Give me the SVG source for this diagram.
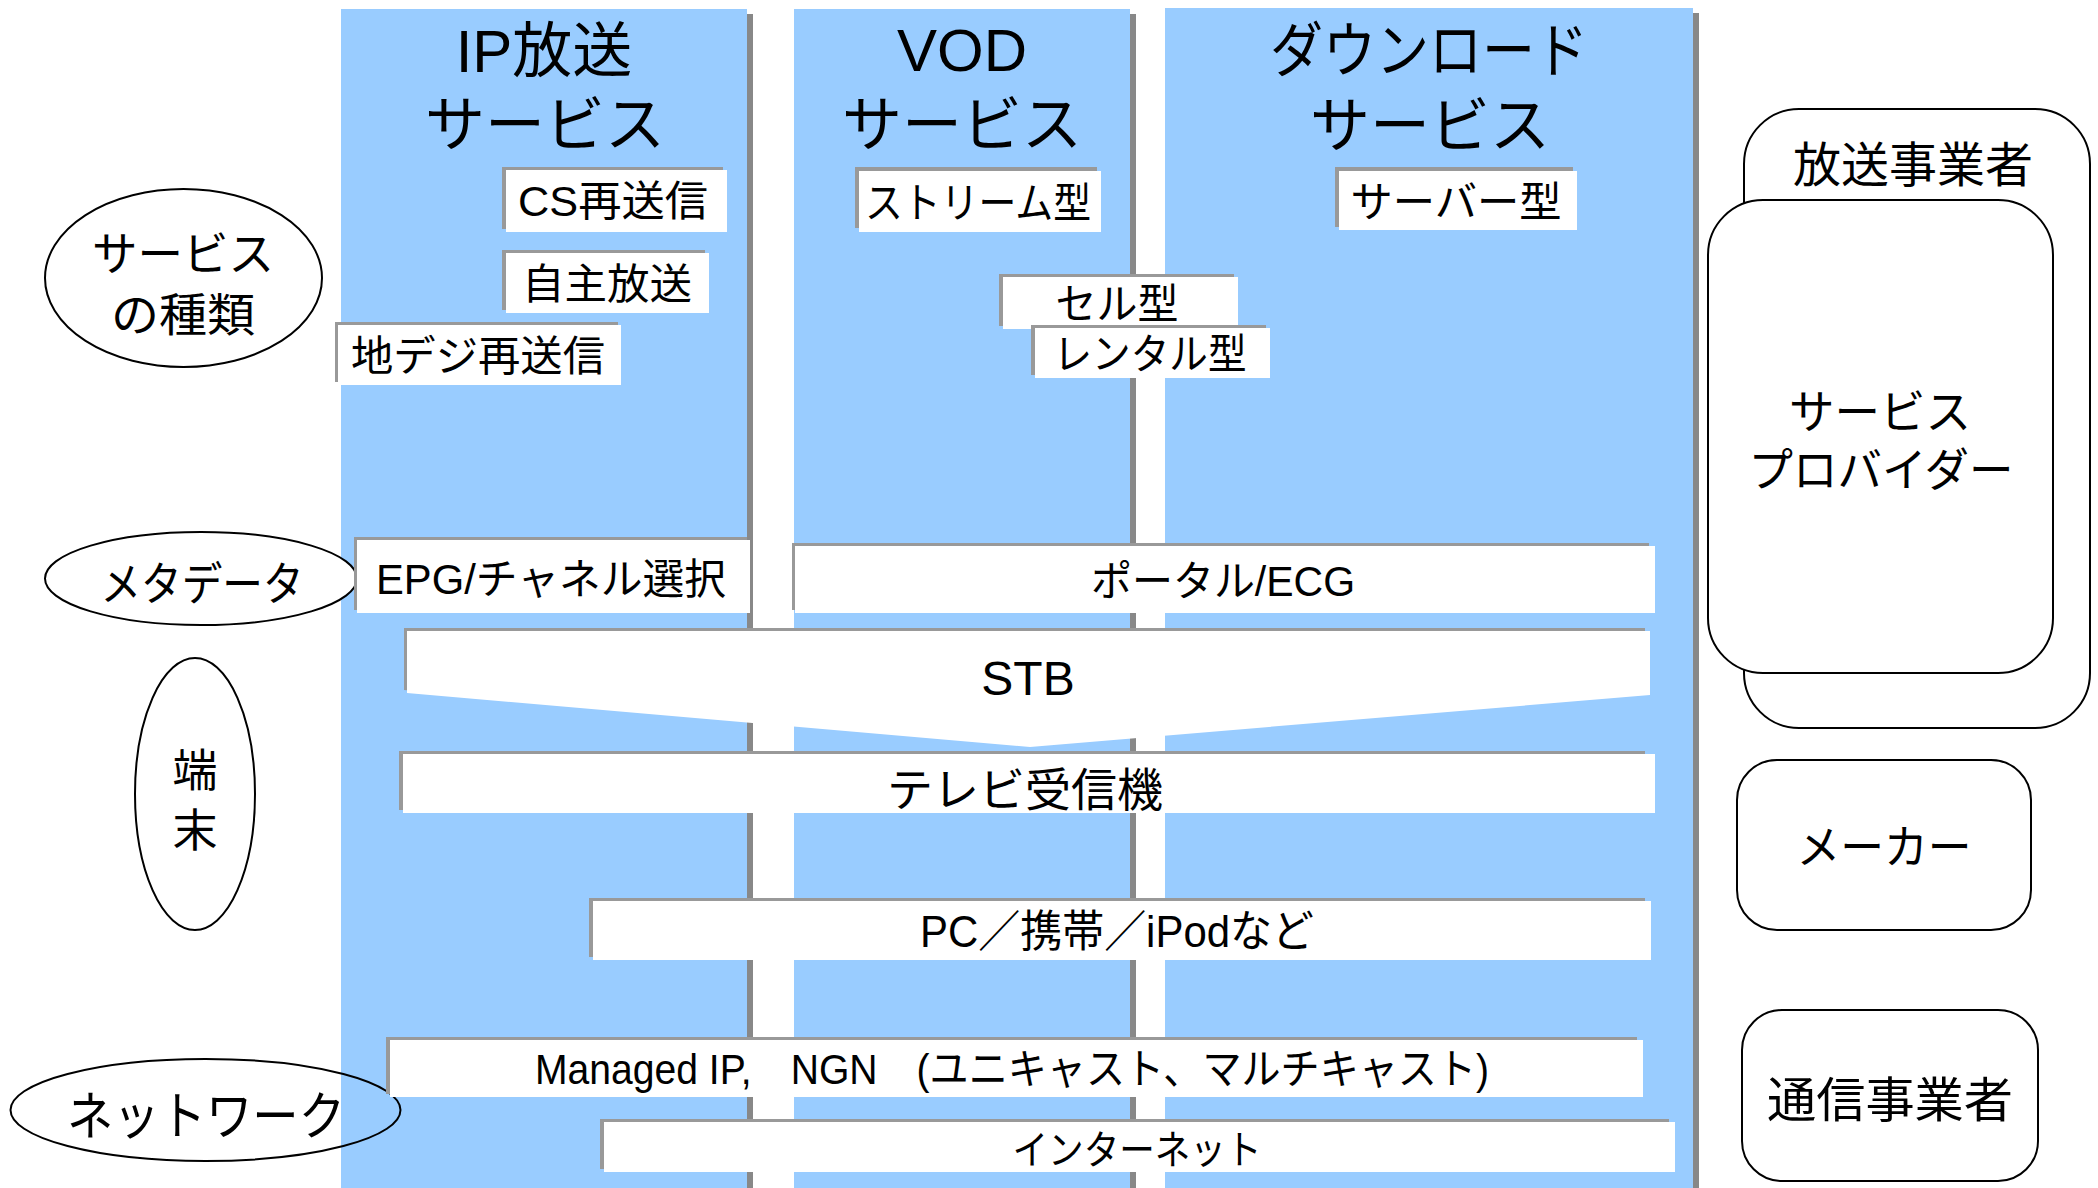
<svg xmlns="http://www.w3.org/2000/svg" width="2098" height="1188" viewBox="0 0 2098 1188">
<style>
.col{fill:#99ccff}
.colsh{fill:#888888}
.bsh{fill:#999999}
.box{fill:#ffffff}
.t{font-family:"Liberation Sans","Noto Sans CJK JP",sans-serif;fill:#000;text-anchor:middle}
.h{font-size:60px}
.s{font-size:42px}
.ol{fill:none;stroke:#000;stroke-width:2}
.olw{fill:#ffffff;stroke:#000;stroke-width:2}
</style>
<rect width="2098" height="1188" fill="#ffffff"/>

<g id="col-ip">
<rect class="colsh" x="347" y="14" width="406" height="1174"/>
<rect class="col" x="341" y="9" width="406" height="1179"/>
<text class="t h" x="544" y="72">IP放送</text>
<text class="t h" x="545" y="146">サービス</text>
</g>
<g id="col-vod">
<rect class="colsh" x="800" y="14" width="336" height="1174"/>
<rect class="col" x="794" y="9" width="336" height="1179"/>
<text class="t h" x="962" y="71">VOD</text>
<text class="t h" x="962" y="146">サービス</text>
</g>
<g id="col-dl">
<rect class="colsh" x="1171" y="13" width="528" height="1175"/>
<rect class="col" x="1165" y="8" width="528" height="1180"/>
<text class="t h" x="1429" y="72" textLength="318" lengthAdjust="spacingAndGlyphs">ダウンロード</text>
<text class="t h" x="1430" y="147">サービス</text>
</g>

<g id="ell-service">
<ellipse class="olw" cx="183.5" cy="278" rx="138.5" ry="89"/>
<text class="t" style="font-size:46px" x="183" y="270" textLength="182" lengthAdjust="spacingAndGlyphs">サービス</text>
<text class="t" style="font-size:46px" x="183" y="331" textLength="144" lengthAdjust="spacingAndGlyphs">の種類</text>
</g>
<g id="ell-meta">
<ellipse class="olw" cx="201" cy="578.5" rx="156" ry="46.5"/>
<text class="t" style="font-size:46px" x="202" y="600" textLength="203" lengthAdjust="spacingAndGlyphs">メタデータ</text>
</g>
<g id="ell-term">
<ellipse class="olw" cx="195" cy="794" rx="60" ry="136"/>
<text class="t" style="font-size:45px" x="195" y="787">端</text>
<text class="t" style="font-size:45px" x="195" y="847">末</text>
</g>
<g id="ell-net">
<ellipse class="ol" cx="205.5" cy="1110" rx="195" ry="51"/>
<text class="t" style="font-size:52px" x="206" y="1135" textLength="278" lengthAdjust="spacingAndGlyphs">ネットワーク</text>
</g>

<g id="box-cs">
<rect class="bsh" x="502" y="167" width="221" height="62"/>
<rect class="box" x="506" y="170" width="221" height="62"/>
<text class="t s" x="613" y="216" textLength="190" lengthAdjust="spacingAndGlyphs">CS再送信</text>
</g>
<g id="box-jishu">
<rect class="bsh" x="502" y="250" width="203" height="60"/>
<rect class="box" x="506" y="253" width="203" height="60"/>
<text class="t s" x="607" y="299" textLength="170" lengthAdjust="spacingAndGlyphs">自主放送</text>
</g>
<g id="box-chideji">
<rect class="bsh" x="335" y="322" width="283" height="60"/>
<rect class="box" x="338" y="325" width="283" height="60"/>
<text class="t s" x="478" y="371" textLength="254" lengthAdjust="spacingAndGlyphs">地デジ再送信</text>
</g>
<g id="box-stream">
<rect class="bsh" x="855" y="167" width="242" height="61"/>
<rect class="box" x="859" y="171" width="242" height="61"/>
<text class="t s" x="978" y="218" textLength="226" lengthAdjust="spacingAndGlyphs">ストリーム型</text>
</g>
<g id="box-cell">
<rect class="bsh" x="999" y="274" width="235" height="52"/>
<rect class="box" x="1003" y="277" width="235" height="52"/>
<text class="t s" x="1117" y="319" textLength="123" lengthAdjust="spacingAndGlyphs">セル型</text>
</g>
<g id="box-rental">
<rect class="bsh" x="1031" y="325" width="235" height="50"/>
<rect class="box" x="1035" y="328" width="235" height="50"/>
<text class="t s" x="1150" y="369" textLength="193" lengthAdjust="spacingAndGlyphs">レンタル型</text>
</g>
<g id="box-server">
<rect class="bsh" x="1335" y="167" width="238" height="60"/>
<rect class="box" x="1339" y="171" width="238" height="59"/>
<text class="t s" x="1456" y="217" textLength="211" lengthAdjust="spacingAndGlyphs">サーバー型</text>
</g>

<g id="box-epg">
<rect class="bsh" x="354" y="537" width="393" height="73"/>
<rect class="box" x="357" y="540" width="393" height="73"/>
<text class="t s" x="551" y="594" textLength="350" lengthAdjust="spacingAndGlyphs">EPG/チャネル選択</text>
</g>
<g id="box-portal">
<rect class="bsh" x="792" y="543" width="857" height="67"/>
<rect class="box" x="795" y="546" width="860" height="67"/>
<text class="t s" x="1223" y="596" textLength="264" lengthAdjust="spacingAndGlyphs">ポータル/ECG</text>
</g>
<g id="box-stb">
<polygon class="bsh" points="404,628 1645,628 1645,692 1026,744 404,690"/>
<polygon class="box" points="407,631 1650,631 1650,695 1030,747 407,693"/>
<text class="t" style="font-size:48px" x="1028" y="695">STB</text>
</g>
<g id="box-tv">
<rect class="bsh" x="399" y="751" width="1246" height="59"/>
<rect class="box" x="403" y="754" width="1252" height="59"/>
<text class="t" style="font-size:46px" x="1025" y="806" textLength="276" lengthAdjust="spacingAndGlyphs">テレビ受信機</text>
</g>
<g id="box-pc">
<rect class="bsh" x="589" y="898" width="1056" height="59"/>
<rect class="box" x="593" y="901" width="1058" height="59"/>
<text class="t" style="font-size:44px" x="1117" y="947" textLength="394" lengthAdjust="spacingAndGlyphs">PC／携帯／iPodなど</text>
</g>
<g id="box-managed">
<rect class="bsh" x="386" y="1037" width="1251" height="57"/>
<rect class="box" x="390" y="1040" width="1253" height="57"/>
<text class="t s" x="1012" y="1084" textLength="954" lengthAdjust="spacingAndGlyphs">Managed IP,　NGN　(ユニキャスト、マルチキャスト)</text>
</g>
<g id="box-internet">
<rect class="bsh" x="600" y="1119" width="1069" height="50"/>
<rect class="box" x="604" y="1122" width="1071" height="50"/>
<text class="t" style="font-size:40px" x="1137" y="1164" textLength="249" lengthAdjust="spacingAndGlyphs">インターネット</text>
</g>

<g id="broadcaster">
<rect class="olw" x="1744" y="109" width="346" height="619" rx="55" ry="55"/>
<text class="t" style="font-size:48px" x="1913" y="182" textLength="240" lengthAdjust="spacingAndGlyphs">放送事業者</text>
</g>
<g id="provider">
<rect class="olw" x="1708" y="200" width="345" height="473" rx="55" ry="55"/>
<text class="t" style="font-size:46px" x="1880" y="428" textLength="182" lengthAdjust="spacingAndGlyphs">サービス</text>
<text class="t" style="font-size:46px" x="1881" y="486" textLength="265" lengthAdjust="spacingAndGlyphs">プロバイダー</text>
</g>
<g id="maker">
<rect class="olw" x="1737" y="760" width="294" height="170" rx="40" ry="40"/>
<text class="t" style="font-size:46px" x="1884" y="863" textLength="175" lengthAdjust="spacingAndGlyphs">メーカー</text>
</g>
<g id="telecom">
<rect class="olw" x="1742" y="1010" width="296" height="171" rx="40" ry="40"/>
<text class="t" style="font-size:48px" x="1890" y="1117" textLength="246" lengthAdjust="spacingAndGlyphs">通信事業者</text>
</g>

<g id="connectors"></g>
</svg>
